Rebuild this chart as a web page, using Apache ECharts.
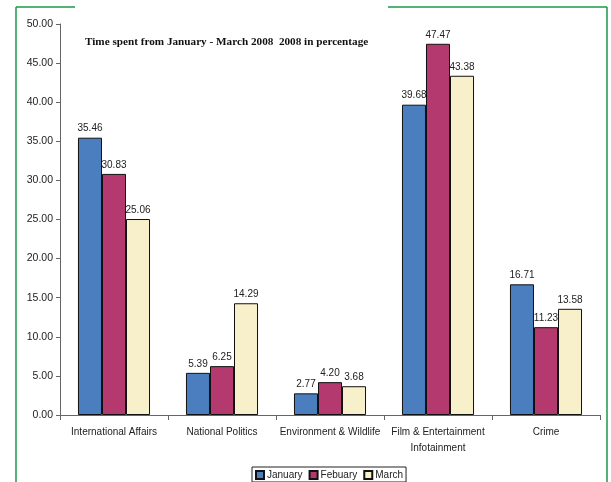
<!DOCTYPE html>
<html>
<head>
<meta charset="utf-8">
<script src="https://cdn.jsdelivr.net/npm/echarts@6/dist/echarts.min.js"></script>
<style>
  html, body { margin: 0; padding: 0; background: #fff; }
  #chart { width: 611px; height: 482px; }
</style>
</head>
<body>
<div id="chart"></div>
<script>
const categories = ["International Affairs", "National Politics", "Environment & Wildlife", "Film & Entertainment\nInfotainment", "Crime"];
const january = [35.46, 5.39, 2.77, 39.68, 16.71];
const febuary = [30.83, 6.25, 4.20, 47.47, 11.23];
const march = [25.06, 14.29, 3.68, 43.38, 13.58];
const seriesNames = ["January", "Febuary", "March"];
const colors = ["#4a7ebf", "#b3396f", "#f8f0cb"];

const chart = echarts.init(document.getElementById("chart"));

const mkSeries = (name, data, color) => ({
  name: name,
  type: "bar",
  data: data,
  barGap: "0%",
  barCategoryGap: "33.3%",
  itemStyle: { color: color, borderColor: "#111", borderWidth: 1 },
  label: {
    show: true,
    position: "top",
    distance: 4,
    color: "#222",
    fontSize: 10,
    fontFamily: "Liberation Sans, Arial",
    formatter: p => p.value.toFixed(2)
  }
});

chart.setOption({
  animation: false,
  textStyle: { fontFamily: "Liberation Sans, Arial" },
  title: {
    text: "Time spent from January - March 2008  2008 in percentage",
    left: 80,
    top: 32,
    textStyle: { fontFamily: "Liberation Serif, Times New Roman", fontWeight: "bold", fontSize: 11.2, color: "#111" }
  },
  legend: {
    data: seriesNames,
    bottom: 0,
    left: 252,
    itemWidth: 8,
    itemHeight: 8,
    itemGap: 6,
    padding: [3, 3, 2, 3],
    borderColor: "#222",
    borderWidth: 1,
    icon: "rect",
    textStyle: { fontSize: 10, color: "#222", padding: [0, 0, 0, -2] }
  },
  grid: { left: 60, right: 11, top: 24, bottom: 67 },
  xAxis: {
    type: "category",
    data: categories,
    axisLine: { lineStyle: { color: "#666" } },
    axisTick: { show: true, length: 5, lineStyle: { color: "#666" } },
    axisLabel: { color: "#222", fontSize: 10, margin: 9, lineHeight: 16, interval: 0 }
  },
  yAxis: {
    type: "value",
    min: 0,
    max: 50,
    interval: 5,
    splitLine: { show: false },
    axisLine: { show: true, lineStyle: { color: "#666" } },
    axisTick: { show: true, length: 4, lineStyle: { color: "#666" } },
    axisLabel: { color: "#222", fontSize: 10.5, margin: 7, formatter: v => v.toFixed(2) }
  },
  series: [
    mkSeries(seriesNames[0], january, colors[0]),
    mkSeries(seriesNames[1], febuary, colors[1]),
    mkSeries(seriesNames[2], march, colors[2])
  ],
  graphic: [
    { type: "line", shape: { x1: 16, y1: 7, x2: 16, y2: 482 }, style: { stroke: "#1a9a4a", lineWidth: 1.5 } },
    { type: "line", shape: { x1: 607, y1: 7, x2: 607, y2: 482 }, style: { stroke: "#1a9a4a", lineWidth: 1.5 } },
    { type: "line", shape: { x1: 16, y1: 7, x2: 75, y2: 7 }, style: { stroke: "#1a9a4a", lineWidth: 1.5 } },
    { type: "line", shape: { x1: 388, y1: 7, x2: 607, y2: 7 }, style: { stroke: "#1a9a4a", lineWidth: 1.5 } }
  ]
});
</script>
</body>
</html>
